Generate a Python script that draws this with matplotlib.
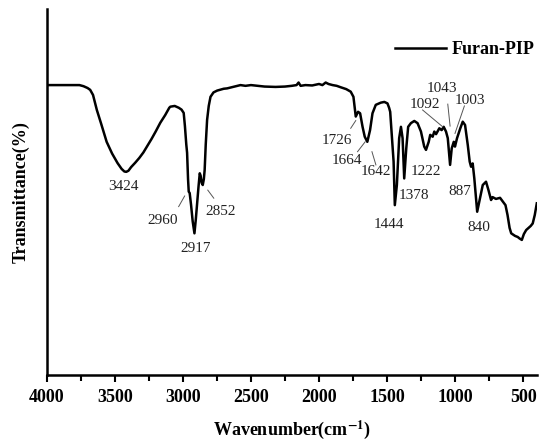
import matplotlib
matplotlib.use("Agg")
import matplotlib.pyplot as plt
from matplotlib.ticker import MultipleLocator

plt.rcParams["font.family"] = ["Liberation Serif", "DejaVu Serif"]
plt.rcParams["mathtext.fontset"] = "stix"

# FTIR spectrum of Furan-PIP
wavenumber = [4000, 3800, 3760, 3730, 3700, 3681, 3660, 3632, 3600, 3560,
              3520, 3480, 3450, 3430, 3416, 3400, 3380, 3350, 3320, 3290,
              3264, 3230, 3200, 3166, 3130, 3100, 3092, 3060, 3030, 3010,
              2994, 2985, 2975, 2969, 2962, 2957, 2950, 2940, 2928, 2915,
              2905, 2895, 2885, 2876, 2870, 2862, 2854, 2846, 2840, 2832,
              2822, 2810, 2797, 2775, 2748, 2700, 2675, 2620, 2577, 2540,
              2500, 2450, 2400, 2319, 2250, 2200, 2165, 2150, 2135, 2100,
              2050, 2000, 1975, 1951, 1930, 1900, 1870, 1840, 1800, 1767,
              1747, 1730, 1713, 1698, 1680, 1664, 1645, 1625, 1607, 1583,
              1546, 1520, 1497, 1485, 1477, 1452, 1443, 1428, 1411, 1398,
              1386, 1374, 1359, 1345, 1325, 1300, 1276, 1251, 1227, 1214,
              1194, 1183, 1165, 1153, 1140, 1116, 1099, 1084, 1067, 1054,
              1037, 1025, 1010, 1001, 986, 962, 944, 927, 907, 893,
              883, 871, 859, 838, 820, 797, 773, 755, 736, 725,
              700, 670, 650, 630, 615, 600, 588, 560, 540, 527,
              510, 495, 478, 460, 445, 430, 415, 400]
transmittance = [79.2, 79.2, 79.2, 78.9, 78.4, 77.9, 76.5, 72.4, 68.6, 63.7,
                 60.5, 57.9, 56.3, 55.6, 55.5, 55.8, 56.8, 58.0, 59.3, 60.8,
                 62.4, 64.5, 66.5, 68.9, 71.0, 73.0, 73.3, 73.5, 73.0, 72.5,
                 71.6, 68.0, 63.0, 60.7, 53.5, 50.1, 49.7, 46.5, 42.0, 38.7,
                 42.5, 47.0, 51.5, 55.1, 54.5, 52.5, 51.9, 53.5, 56.0, 63.0,
                 69.7, 73.5, 76.0, 77.2, 77.7, 78.2, 78.3, 78.8, 79.2, 79.0,
                 79.2, 79.0, 78.8, 78.7, 78.8, 79.0, 79.2, 79.9, 79.0, 79.2,
                 79.1, 79.5, 79.2, 79.9, 79.5, 79.2, 79.0, 78.6, 78.1, 77.4,
                 76.0, 70.6, 71.9, 71.5, 67.8, 65.1, 63.7, 66.9, 71.5, 73.8,
                 74.4, 74.6, 74.2, 73.0, 71.9, 58.3, 46.4, 51.9, 64.7, 67.8,
                 64.7, 53.7, 61.9, 67.8, 68.8, 69.4, 68.8, 66.5, 62.4, 61.5,
                 63.7, 65.6, 65.1, 66.5, 65.8, 67.4, 66.9, 67.8, 66.5, 64.7,
                 57.4, 61.9, 63.7, 62.4, 64.7, 67.4, 69.2, 68.3, 62.8, 58.3,
                 56.9, 57.8, 53.7, 44.6, 47.8, 51.9, 52.8, 50.5, 47.8, 48.6,
                 48.1, 48.4, 47.4, 46.4, 43.7, 40.2, 38.7, 38.0, 37.7, 37.3,
                 36.9, 38.5, 39.6, 40.2, 40.7, 41.4, 43.7, 46.9]

# peak labels: text, label x, label y
peak_labels = ["3424", "2960", "2852", "2917", "1726", "1664", "1642", "1444",
               "1378", "1222", "1092", "1043", "1003", "887", "840"]
label_x = [3440, 3146, 2724, 2908, 1870, 1796, 1585, 1485,
           1305, 1214, 1219, 1099, 890, 962, 826]
label_y = [51.4, 42.3, 44.6, 34.6, 64.0, 58.5, 55.5, 41.0,
           48.9, 55.7, 73.8, 78.3, 75.1, 50.1, 40.2]

# leader lines: start (x, y) -> end (x, y)
leaders = [
    ((3031, 46.0), (2987, 48.9)),
    ((2817, 50.5), (2773, 48.3)),
    ((1767, 67.4), (1730, 69.5)),
    ((1717, 61.0), (1661, 63.7)),
    ((1582, 57.4), (1611, 61.0)),
    ((1239, 72.4), (1091, 67.8)),
    ((1054, 74.0), (1037, 68.0)),
    ((932, 73.5), (1001, 66.0)),
]

fig = plt.figure(figsize=(5.5, 4.48), dpi=100)
ax = fig.add_axes([0.085, 0.163, 0.891, 0.817])

ax.plot(wavenumber, transmittance, color="black", lw=1.8, label="Furan-PIP",
        solid_joinstyle="round")

for txt, x, y in zip(peak_labels, label_x, label_y):
    ax.text(x, y, txt, fontsize=11, ha="center", va="center", color="#222222")

for (x0, y0), (x1, y1) in leaders:
    ax.plot([x0, x1], [y0, y1], color="#555555", lw=0.7)

ax.set_xlim(4000, 400)
ax.set_ylim(0, 100)
ax.xaxis.set_major_locator(MultipleLocator(500))
ax.xaxis.set_minor_locator(MultipleLocator(250))
ax.set_xticks([4000, 3500, 3000, 2500, 2000, 1500, 1000, 500])
ax.tick_params(axis="x", which="major", direction="out", length=5, width=1.5,
               labelsize=13, pad=5)
ax.tick_params(axis="x", which="minor", direction="out", length=4, width=1.5)
ax.set_yticks([])
for lbl in ax.get_xticklabels():
    lbl.set_fontweight("bold")

for side in ["top", "right"]:
    ax.spines[side].set_visible(False)
for side in ["left", "bottom"]:
    ax.spines[side].set_linewidth(1.8)

ax.set_xlabel(r"Wavenumber(cm$^{\mathbf{-1}}$)", fontsize=13, fontweight="bold",
              labelpad=9)
ax.set_ylabel("Transmittance(%)", fontsize=13, fontweight="bold", labelpad=12)

fig.legend(loc="center left", bbox_to_anchor=(395 / 550, 1 - 50 / 448),
           frameon=False, handlelength=2.8, handletextpad=0.35,
           borderpad=0, borderaxespad=0, prop={"weight": "bold", "size": 13})

fig.savefig("out.png", dpi=100)
